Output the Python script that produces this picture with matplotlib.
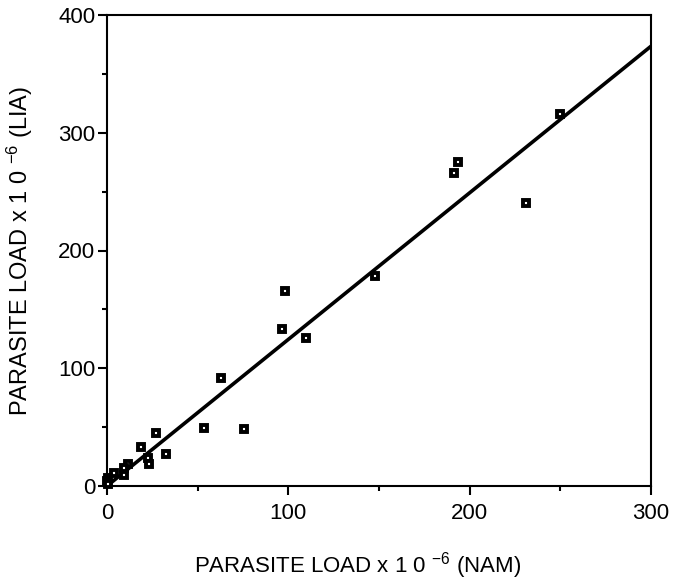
import matplotlib
matplotlib.use("Agg")
import matplotlib.pyplot as plt
from matplotlib.ticker import MultipleLocator

plt.rcParams["font.family"] = ["Liberation Sans", "DejaVu Sans"]
plt.rcParams["mathtext.default"] = "regular"

# parasite load (x 10^-6) measured by the two methods
nam = [250, 231, 193.5, 191.5, 148, 98, 96.5, 110, 63, 53.5, 75.5,
       27.2, 32.7, 18.8, 22.4, 23.3, 11.8, 9.2, 9.5, 4, 0.7, 0, 0.3]
lia = [315.5, 240, 275.5, 266, 178.5, 165.5, 133.5, 125.5, 91.6, 49.5, 48,
       44.8, 27.2, 33.5, 24, 19, 19, 15, 9.5, 10.8, 7, 4.5, 2]

# regression line
fit_slope = 1.245
fit_intercept = 0.0
fit_range = [0, 300]

x_label = "PARASITE LOAD x 1 0 $^{-6}$ (NAM)"
y_label = "PARASITE LOAD x 1 0 $^{-6}$ (LIA)"

fig = plt.figure(figsize=(6.74, 5.81), dpi=100)
ax = fig.add_axes([107 / 674, 1 - 486 / 581, 544 / 674, 471 / 581])

fx = fit_range
fy = [fit_slope * v + fit_intercept for v in fx]
ax.plot(fx, fy, color="black", lw=2.6, solid_capstyle="butt", zorder=2)

ax.plot(nam, lia, linestyle="none", marker="s", ms=4.6, mfc="white",
        mec="black", mew=2.8, clip_on=False, zorder=3)

ax.set_xlim(0, 300)
ax.set_ylim(0, 400)
ax.xaxis.set_major_locator(MultipleLocator(100))
ax.xaxis.set_minor_locator(MultipleLocator(50))
ax.yaxis.set_major_locator(MultipleLocator(100))
ax.yaxis.set_minor_locator(MultipleLocator(50))
ax.tick_params(which="major", direction="out", length=6.5, width=1.5,
               labelsize=16)
ax.tick_params(axis="x", which="major", pad=6)
ax.tick_params(axis="y", which="major", pad=2)
ax.tick_params(which="minor", direction="out", length=3.5, width=1.5)
for s in ax.spines.values():
    s.set_linewidth(1.5)

ax.set_xlabel(x_label, fontsize=16, va="center")
ax.set_ylabel(y_label, fontsize=17, va="center")
ax.xaxis.set_label_coords(0.461, -0.168)
ax.yaxis.set_label_coords(-0.16, 0.5)

fig.savefig("out.png", dpi=100)
